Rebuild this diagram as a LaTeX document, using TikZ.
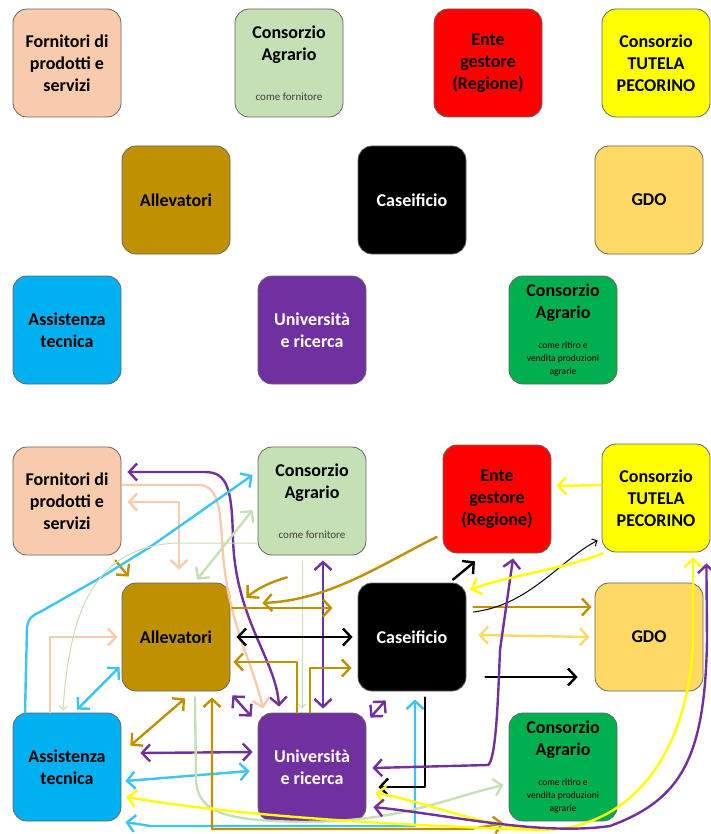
\documentclass[tikz,border=0pt]{standalone}
\usepackage{fontspec}
\setmainfont{Carlito}
\usetikzlibrary{arrows.meta,calc}
\definecolor{FilSalmone}{HTML}{F8CBAD}
\definecolor{FilVerdino}{HTML}{C5E0B4}
\definecolor{FilRosso}{HTML}{FF0000}
\definecolor{FilGiallo}{HTML}{FFFF00}
\definecolor{FilOro}{HTML}{BF9000}
\definecolor{FilCrema}{HTML}{FFD966}
\definecolor{FilCeleste}{HTML}{00B0F0}
\definecolor{FilAzzurro}{HTML}{3CC4F2}
\definecolor{FilViola}{HTML}{7030A0}
\definecolor{FilVerde}{HTML}{00B050}
\definecolor{FilGrigio}{HTML}{404040}
\newcommand{\notaritiro}{\parbox{104pt}{\centering\mdseries\fontsize{9.5}{13}\selectfont
  come ritiro e\\vendita produzioni\\agrarie}}

\begin{document}
\begin{tikzpicture}[x=1pt,y=-1pt,
  box/.style={draw=black!60,line width=0.8pt,rounded corners=14pt,minimum width=108pt,minimum height=108pt,
    align=center,inner sep=2pt,font=\fontsize{18}{22}\selectfont\bfseries},
  freccia/.style={line width=2.4pt,line cap=round,line join=round},
  sottile/.style={line width=1pt,line cap=round,>={Straight Barb[length=4pt,width=8pt]}},
  >={Straight Barb[length=8pt,width=17pt]}]
  \useasboundingbox (0,0) rectangle (710,834);
  % schema di partenza
  \node[box,fill=FilSalmone] (fornA) at (67,63) {Fornitori di\\prodotti e\\servizi};
  \node[box,fill=FilVerdino] (caA) at (289,63)
    {Consorzio\\Agrario\\[18pt]{\mdseries\fontsize{11}{13}\selectfont\color{FilGrigio}come fornitore}};
  \node[box,fill=FilRosso] (enteA) at (488,63) {Ente\\gestore\\(Regione)};
  \node[box,fill=FilGiallo] (tutA) at (656,63) {Consorzio\\TUTELA\\PECORINO};
  \node[box,fill=FilOro] (allA) at (176,200) {Allevatori};
  \node[box,fill=black,text=white] (casA) at (412,200) {Caseificio};
  \node[box,fill=FilCrema] (gdoA) at (649,200) {GDO};
  \node[box,fill=FilCeleste] (assA) at (67,330) {Assistenza\\tecnica};
  \node[box,fill=FilViola,text=white] (uniA) at (312,330) {Università\\e ricerca};
  \node[box,fill=FilVerde] (cavA) at (563,330) {Consorzio\\Agrario\\[20pt]\notaritiro};
  % schema con le relazioni
  \node[box,fill=FilSalmone] (fornB) at (67,501) {Fornitori di\\prodotti e\\servizi};
  \node[box,fill=FilVerdino] (caB) at (312,501)
    {Consorzio\\Agrario\\[18pt]{\mdseries\fontsize{11}{13}\selectfont\color{FilGrigio}come fornitore}};
  \node[box,fill=FilRosso] (enteB) at (497,499) {Ente\\gestore\\(Regione)};
  \node[box,fill=FilGiallo] (tutB) at (656,498) {Consorzio\\TUTELA\\PECORINO};
  \node[box,fill=FilOro] (allB) at (176,637) {Allevatori};
  \node[box,fill=black,text=white] (casB) at (412,637) {Caseificio};
  \node[box,fill=FilCrema] (gdoB) at (649,637) {GDO};
  \node[box,fill=FilCeleste] (assB) at (67,767) {Assistenza\\tecnica};
  \node[box,fill=FilViola,text=white] (uniB) at (312,767) {Università\\e ricerca};
  \node[box,fill=FilVerde] (cavB) at (563,767) {Consorzio\\Agrario\\[20pt]\notaritiro};
  % fornitori
  \draw[freccia,FilViola,<->] ($(fornB.east)+(6,-29)$) -- (205,472) .. controls (228,472) and (232,490) .. (233,540)
    .. controls (236,620) and (276,660) .. ($(uniB.north)+(-33,-6)$);
  \draw[freccia,FilSalmone,->] ($(fornB.east)+(1,-16)$) -- (198,485) .. controls (215,485) and (220,500) .. (222,540)
    .. controls (226,620) and (252,660) .. ($(uniB.north)+(-49,-4)$);
  \draw[freccia,FilSalmone,<->] ($(fornB.east)+(6,1)$) -- (179,502) -- ($(allB.north)+(3,-13)$);
  \draw[freccia,FilOro,->] ($(fornB.south east)+(-6,5)$) -- ($(allB.north west)+(7,-6)$);
  % consorzio agrario fornitore
  \draw[freccia,FilAzzurro,->] ($(assB.north)+(-42,0)$) -- (27,628) .. controls (28,618) and (33,615) .. (40,612)
    -- (100,578) -- (150,547) -- ($(caB.west)+(-5,-26)$);
  \draw[sottile,FilVerdino,->] ($(caB.west)+(0,42)$) -- (175,543) .. controls (100,548) and (70,600) .. ($(assB.north)+(-4,-2)$);
  \draw[freccia,FilVerdino,<->] ($(caB.west)+(-5,9)$) -- ($(allB.north)+(21,-3)$);
  \draw[freccia,FilViola,<->] ($(caB.south)+(11,5)$) -- ($(uniB.north)+(11,-4)$);
  \draw[sottile,FilVerdino,->] ($(caB.south)+(-10,6)$) -- ($(uniB.north)+(-10,-4)$);
  % allevatori
  \draw[freccia,FilOro,->] ($(caB.south)+(-25,22)$) .. controls (270,582) and (255,590) .. ($(allB.east)+(16,-39)$);
  \draw[freccia,FilOro,->] ($(enteB.west)+(-6,38)$) .. controls (380,565) and (330,600) .. ($(allB.east)+(32,-34)$);
  \draw[freccia,FilOro,->] ($(allB.east)+(2,-29)$) -- ($(casB.west)+(-25,-29)$);
  \draw[freccia,black,<->] ($(allB.east)+(6,0)$) -- ($(casB.west)+(-5,0)$);
  \draw[freccia,FilOro,->] ($(uniB.north)+(-15,0)$) -- (297,662) -- ($(allB.east)+(3,25)$);
  \draw[freccia,FilOro,->] ($(uniB.north)+(-2,0)$) -- (310,668) -- ($(casB.west)+(-6,31)$);
  \draw[freccia,FilViola,<->] ($(allB.south east)+(2,4)$) -- ($(uniB.north west)+(-6,4)$);
  \draw[freccia,FilViola,<->] ($(casB.south west)+(28,9)$) -- ($(uniB.north east)+(4,5)$);
  % assistenza tecnica
  \draw[freccia,FilAzzurro,<->] ($(assB.north)+(10,-3)$) -- ($(allB.west)+(-2,30)$);
  \draw[freccia,FilSalmone,->] ($(assB.north)+(-17,0)$) -- (50,637) -- ($(allB.west)+(-4,0)$);
  \draw[freccia,FilOro,<->] ($(assB.north east)+(9,33)$) -- ($(allB.south)+(9,7)$);
  \draw[freccia,FilViola,<->] ($(assB.east)+(19,-14)$) -- ($(uniB.west)+(-5,-15)$);
  \draw[freccia,FilAzzurro,<->] ($(assB.east)+(4,14)$) -- ($(uniB.west)+(-8,4)$);
  \draw[freccia,FilAzzurro,<->] ($(assB.east)+(4,55)$) -- (150,826) -- (415,826) -- ($(casB.south)+(3,8)$);
  % verso il consorzio agrario (ritiro)
  \draw[freccia,FilOro,<->] ($(allB.south)+(36,6)$) -- (212,829) -- (470,829) -- ($(cavB.south west)+(-5,2)$);
  \draw[freccia,FilVerdino,->] ($(allB.south)+(19,6)$) -- (196,780) .. controls (198,815) and (230,820) .. (300,822)
    .. controls (400,822) and (440,800) .. ($(cavB.west)+(-5,18)$);
  % caseificio
  \draw[freccia,black,->] ($(casB.north)+(41,-3)$) -- ($(enteB.south)+(-22,8)$);
  \draw[freccia,FilOro,->] ($(casB.east)+(7,-30)$) -- ($(gdoB.west)+(-3,-30)$);
  \draw[freccia,FilCrema,<->] ($(casB.east)+(12,-2)$) -- ($(gdoB.west)+(-5,0)$);
  \draw[freccia,black,->] ($(casB.east)+(19,40)$) -- ($(gdoB.west)+(-17,40)$);
  \draw[freccia,black,->] ($(casB.south)+(13,6)$) -- (425,787) -- ($(uniB.east)+(12,20)$);
  \draw[sottile,black,->] ($(casB.east)+(7,-25)$) .. controls (530,605) and (560,560) .. ($(tutB.south west)+(-4,-12)$);
  % ente gestore
  \draw[freccia,FilViola,<->] ($(uniB.east)+(6,1)$) -- (488,765) .. controls (496,760) and (498,700) .. (500,650)
    -- ($(enteB.south)+(16,5)$);
  % consorzio tutela
  \draw[freccia,FilGiallo,->] ($(tutB.west)+(-1,-13)$) -- ($(enteB.east)+(5,-13)$);
  \draw[freccia,FilGiallo,->] ($(tutB.south west)+(1,1)$) .. controls (560,570) and (510,575) .. ($(casB.north east)+(4,7)$);
  \draw[freccia,FilGiallo,<->] ($(tutB.south)+(37,5)$) -- (693,640) .. controls (690,740) and (640,830) .. (540,830)
    coordinate (bivio) .. controls (420,826) and (250,818) .. ($(assB.east)+(5,30)$);
  \draw[freccia,FilGiallo,->] (bivio) .. controls (480,826) and (420,800) .. ($(uniB.east)+(9,26)$);
  \draw[freccia,FilViola,<->] ($(tutB.south east)+(-4,11)$) -- (707,640) .. controls (705,760) and (680,800) .. (610,826)
    .. controls (540,836) and (450,815) .. ($(uniB.east)+(7,40)$);
\end{tikzpicture}
\end{document}
